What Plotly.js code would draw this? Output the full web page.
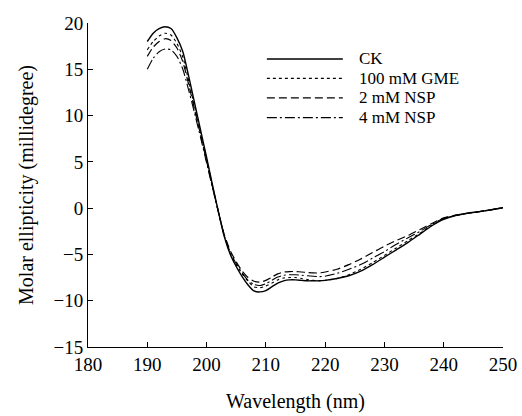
<!DOCTYPE html>
<html>
<head>
<meta charset="utf-8">
<script src="https://cdn.plot.ly/plotly-3.0.1.min.js"></script>
<style>html,body{margin:0;padding:0;background:#fff;}#chart{width:522px;height:416px;}</style>
</head>
<body>
<div id="chart"></div>
<script>
var wavelength = [190,191,192,193,194,195,196,197,198,199,200,201,202,203,204,205,206,207,208,209,210,211,212,213,214,215,216,217,218,219,220,222,224,226,228,230,232,234,236,238,240,242,244,246,248,250];
var ck   = [18.0,18.9,19.4,19.6,19.4,18.4,16.9,14.2,11.3,8.4,5.5,2.5,-0.4,-3.1,-5.0,-6.3,-7.4,-8.3,-8.95,-9.05,-8.9,-8.5,-8.1,-7.85,-7.75,-7.75,-7.8,-7.85,-7.85,-7.85,-7.8,-7.6,-7.3,-6.8,-6.1,-5.3,-4.5,-3.7,-2.8,-1.9,-1.2,-0.8,-0.55,-0.38,-0.18,0.05];
var gme  = [17.1,18.0,18.6,18.9,18.7,17.8,16.3,13.7,10.9,8.1,5.3,2.4,-0.4,-3.0,-4.9,-6.1,-7.1,-7.9,-8.5,-8.6,-8.4,-8.1,-7.75,-7.55,-7.5,-7.5,-7.6,-7.7,-7.8,-7.85,-7.8,-7.6,-7.2,-6.6,-5.9,-5.1,-4.3,-3.5,-2.7,-1.85,-1.15,-0.8,-0.55,-0.38,-0.18,0.05];
var nsp2 = [16.4,17.4,18.0,18.3,18.1,17.3,15.8,13.3,10.6,7.9,5.1,2.3,-0.4,-2.9,-4.6,-5.8,-6.8,-7.5,-7.9,-8.0,-7.8,-7.45,-7.1,-6.9,-6.85,-6.85,-6.9,-6.95,-7.0,-7.0,-6.9,-6.6,-6.1,-5.5,-4.8,-4.1,-3.5,-2.95,-2.3,-1.65,-1.05,-0.75,-0.55,-0.38,-0.18,0.05];
var nsp4 = [15.0,16.2,16.9,17.2,17.1,16.4,15.0,12.7,10.2,7.6,4.9,2.2,-0.45,-3.0,-4.8,-6.0,-7.0,-7.8,-8.25,-8.35,-8.15,-7.8,-7.45,-7.25,-7.2,-7.2,-7.25,-7.3,-7.35,-7.4,-7.35,-7.05,-6.6,-6.1,-5.4,-4.7,-3.9,-3.2,-2.5,-1.75,-1.1,-0.78,-0.55,-0.38,-0.18,0.05];
var seriesNames = ["CK","100 mM GME","2 mM NSP","4 mM NSP"];
var xTicks = [180,190,200,210,220,230,240,250];
var yTicks = [-15,-10,-5,0,5,10,15,20];

var dashes = ["solid","dot","8px,4px","10px,3px,2px,3px"];
var widths = [1.4,1.1,1.2,1.1];
var ys = [ck,gme,nsp2,nsp4];
var traces = ys.map(function(y,i){
  return {x: wavelength, y: y, name: seriesNames[i], type:'scatter', mode:'lines', showlegend:false,
    line:{color:'#000', width: widths[i], dash: dashes[i], shape:'spline', smoothing:0.6}};
});

var fam = '"Liberation Serif","Times New Roman",serif';
// manual legend (compact row spacing like the reference)
var legRowsY = [0.889, 0.829, 0.769, 0.708];
var shapes = [], annotations = [];
seriesNames.forEach(function(n,i){
  shapes.push({type:'line', xref:'paper', yref:'paper', x0:0.431, x1:0.614, y0:legRowsY[i], y1:legRowsY[i],
    line:{color:'#000', width:widths[i], dash:dashes[i]}});
  annotations.push({xref:'paper', yref:'paper', x:0.651, y:legRowsY[i], xanchor:'left', yanchor:'middle',
    text:n, showarrow:false, borderpad:0, font:{family:fam, size:17, color:'#000'}});
});

var layout = {
  width:522, height:416,
  margin:{l:88, r:19, t:23, b:69},
  paper_bgcolor:'#fff', plot_bgcolor:'#fff',
  font: {family:fam, color:'#000', size:19},
  showlegend:false,
  shapes: shapes,
  annotations: annotations,
  xaxis:{range:[180,250], tickvals:xTicks, ticktext:xTicks.map(String), ticks:'inside', ticklen:5,
    tickcolor:'#000', showline:true, linecolor:'#000', linewidth:1, showgrid:false, zeroline:false,
    automargin:false,
    title:{text:'Wavelength (nm)', font:{family:fam, size:20, color:'#000'}, standoff:20},
    tickfont:{family:fam, size:19, color:'#000'}},
  yaxis:{range:[-15,20], tickvals:yTicks, ticktext:yTicks.map(function(v){return v<0?'\u2212'+Math.abs(v):String(v);}),
    ticks:'inside', ticklen:5, tickcolor:'#000', showline:true, linecolor:'#000', linewidth:1,
    showgrid:false, zeroline:false, automargin:false,
    title:{text:'Molar ellipticity (millidegree)', font:{family:fam, size:20, color:'#000'}, standoff:14},
    tickfont:{family:fam, size:19, color:'#000'}}
};
Plotly.newPlot('chart', traces, layout, {displayModeBar:false, staticPlot:true});
</script>
</body>
</html>
